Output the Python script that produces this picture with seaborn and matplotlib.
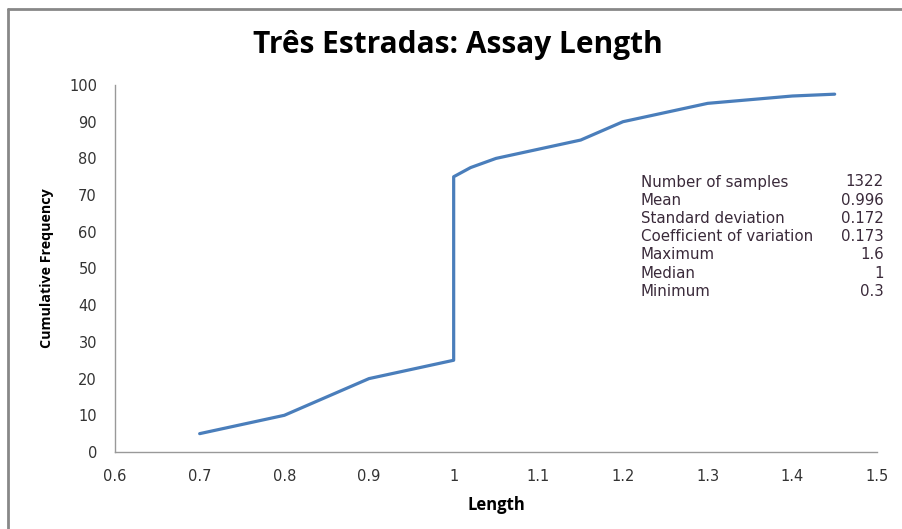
import matplotlib
matplotlib.use("Agg")
import matplotlib.pyplot as plt
from matplotlib.lines import Line2D
import seaborn as sns
import pandas as pd

# data
length = [0.7, 0.75, 0.8, 0.85, 0.9, 0.95, 1.0, 1.0, 1.02, 1.05, 1.1, 1.15, 1.2, 1.25, 1.3, 1.35, 1.4, 1.45]
cum_freq = [5, 7.5, 10, 15, 20, 22.5, 25, 75, 77.5, 80, 82.5, 85, 90, 92.5, 95, 96, 97, 97.5]

stat_names = ["Number of samples", "Mean", "Standard deviation",
              "Coefficient of variation", "Maximum", "Median", "Minimum"]
stat_values = ["1322", "0.996", "0.172", "0.173", "1.6", "1", "0.3"]

df = pd.DataFrame({"Length": length, "Cumulative Frequency": cum_freq})

sns.set_style("white")
plt.rcParams["font.family"] = ["DejaVu Sans"]

W, H = 903, 529
fig = plt.figure(figsize=(W / 100, H / 100), dpi=100)
ax = fig.add_axes([115 / W, 1 - 452 / H, (877 - 115) / W, (452 - 85) / H])

sns.lineplot(data=df, x="Length", y="Cumulative Frequency", ax=ax,
             color="#4a7ebb", linewidth=2.3, sort=False, estimator=None)

ax.set_xlim(0.6, 1.5)
ax.set_ylim(0, 100)
ax.set_xticks([0.6, 0.7, 0.8, 0.9, 1.0, 1.1, 1.2, 1.3, 1.4, 1.5])
ax.set_xticklabels(["0.6", "0.7", "0.8", "0.9", "1", "1.1", "1.2", "1.3", "1.4", "1.5"])
ax.set_yticks(range(0, 101, 10))
ax.tick_params(axis="both", length=0, labelsize=10.5, colors="#333333")
ax.tick_params(axis="x", pad=12)
ax.tick_params(axis="y", pad=13)
for s in ["top", "right"]:
    ax.spines[s].set_visible(False)
for s in ["left", "bottom"]:
    ax.spines[s].set_color("#999999")
    ax.spines[s].set_linewidth(1.0)

ax.set_xlabel("Length", fontsize=12, fontweight="bold", labelpad=9,
              family=["Open Sans", "DejaVu Sans"], color="black")
ax.set_ylabel("Cumulative Frequency", fontsize=10.3, fontweight="bold", labelpad=11,
              family=["Open Sans", "DejaVu Sans"], color="black")

fig.text(458 / W, 1 - 45 / H, "Três Estradas: Assay Length", ha="center", va="center",
         fontsize=21.5, fontweight="bold", color="black", family=["Open Sans", "DejaVu Sans"])

# statistics table
for i, (n, v) in enumerate(zip(stat_names, stat_values)):
    y = 1 - (182 + i * 18.2) / H
    fig.text(641 / W, y, n, ha="left", va="center", fontsize=10.8, color="#3a2a3a")
    fig.text(884 / W, y, v, ha="right", va="center", fontsize=10.8, color="#3a2a3a")

# outer chart border
fig.add_artist(Line2D([8 / W, 8 / W], [1 - 9 / H, 0], color="#888888", linewidth=2))
fig.add_artist(Line2D([8 / W, 1], [1 - 9 / H, 1 - 9 / H], color="#888888", linewidth=2))

fig.savefig("out.png", dpi=100)
